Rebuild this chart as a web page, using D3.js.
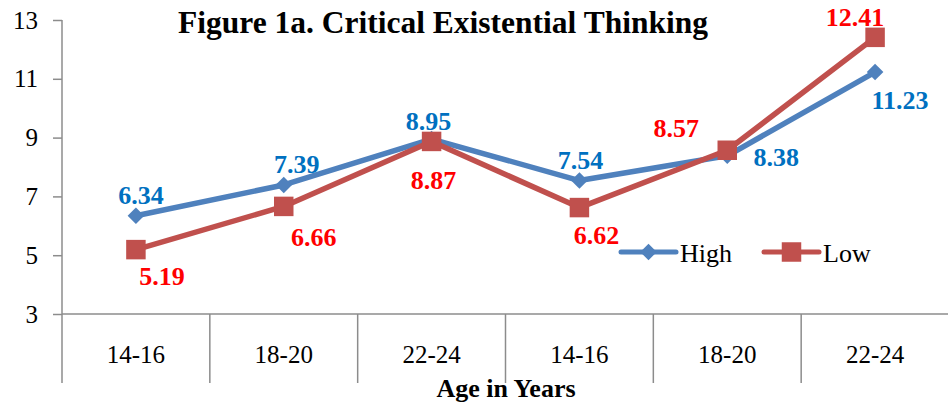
<!DOCTYPE html>
<html><head><meta charset="utf-8">
<script src="https://cdn.jsdelivr.net/npm/d3@7"></script>
<style>body{margin:0;background:#fff}svg{display:block}</style>
</head><body>
<svg id="c" width="948" height="403"></svg>
<script>
const categories = ["14-16","18-20","22-24","14-16","18-20","22-24"];
const highValues = [6.34, 7.39, 8.95, 7.54, 8.38, 11.23];
const lowValues  = [5.19, 6.66, 8.87, 6.62, 8.57, 12.41];
const yTicks = [3, 5, 7, 9, 11, 13];
const seriesNames = ["High", "Low"];
const chartTitle = "Figure 1a. Critical Existential Thinking";
const xTitle = "Age in Years";
// label offsets (px) relative to each point
const highLabelOffsets = [[5,-20],[13,-20],[-3,-18],[1,-20],[49,2],[25,28]];
const lowLabelOffsets  = [[26,27],[30,31],[2,39],[17,28],[-51,-22],[-20,-20]];

(function(){
const svg = d3.select("#c");
const mLeft = 62, mRight = 949, mTop = 20, mBottom = 314;
const font = "'Liberation Serif','Times New Roman',serif";
const idx = categories.map((d,i)=>i);
const x = d3.scaleBand().domain(idx).range([mLeft, mRight]);
const y = d3.scaleLinear().domain([3,13]).range([mBottom, mTop]);
const axisColor = "#8c8c8c";

// y axis
const ya = svg.append("g").attr("transform",`translate(${mLeft},0)`)
  .call(d3.axisLeft(y).tickValues(yTicks).tickSize(9).tickPadding(15));
ya.select(".domain").attr("stroke",axisColor).attr("stroke-width",1.5).attr("d",`M0,${mTop}V383`);
ya.selectAll(".tick line").attr("stroke",axisColor).attr("stroke-width",1.5);
ya.selectAll(".tick text").attr("font-family",font).attr("font-size",25).attr("fill","#000");

// x axis line
svg.append("line").attr("x1",mLeft).attr("x2",mRight).attr("y1",y(3)).attr("y2",y(3))
  .attr("stroke",axisColor).attr("stroke-width",1.5);
// category separators
svg.selectAll(".sep").data(idx.slice(1)).enter().append("line")
  .attr("x1",d=>x(d)).attr("x2",d=>x(d)).attr("y1",y(3)).attr("y2",383)
  .attr("stroke",axisColor).attr("stroke-width",1.5);
svg.selectAll(".cat").data(idx).enter().append("text")
  .attr("x",d=>x(d)+x.bandwidth()/2).attr("y",357)
  .attr("text-anchor","middle").attr("dominant-baseline","middle")
  .attr("font-family",font).attr("font-size",25).text(d=>categories[d]);

// titles
svg.append("text").attr("x",443).attr("y",33).attr("text-anchor","middle")
  .attr("font-family",font).attr("font-size",31.5).attr("font-weight","bold").text(chartTitle);
svg.append("text").attr("x",506).attr("y",397).attr("text-anchor","middle")
  .attr("font-family",font).attr("font-size",26).attr("font-weight","bold").text(xTitle);

const cx = i => x(i)+x.bandwidth()/2;
const line = d3.line().x((d,i)=>cx(i)).y(d=>y(d));
const blue = "#4F81BD", red = "#C0504D";
const diamond = d3.symbol().type(d3.symbolDiamond2).size(175);
const square = d3.symbol().type(d3.symbolSquare).size(380);

function drawSeries(vals, color, sym){
  svg.append("path").datum(vals).attr("d",line).attr("fill","none")
    .attr("stroke",color).attr("stroke-width",5.5).attr("stroke-linejoin","round");
  svg.selectAll(null).data(vals).enter().append("path")
    .attr("d",sym).attr("fill",color)
    .attr("transform",(d,i)=>`translate(${cx(i)},${y(d)})`);
}
drawSeries(highValues, blue, diamond);
drawSeries(lowValues, red, square);

function drawLabels(vals, offs, color){
  svg.selectAll(null).data(vals).enter().append("text")
    .attr("x",(d,i)=>cx(i)+offs[i][0]).attr("y",(d,i)=>y(d)+offs[i][1])
    .attr("text-anchor","middle").attr("dominant-baseline","central")
    .attr("font-family",font).attr("font-size",26).attr("font-weight","bold")
    .attr("fill",color).text(d=>d.toFixed(2));
}
drawLabels(highValues, highLabelOffsets, "#0070C0");
drawLabels(lowValues, lowLabelOffsets, "#FF0000");

// legend
const leg = [{name:seriesNames[0],color:blue,sym:diamond,x:621},{name:seriesNames[1],color:red,sym:square,x:764}];
const lg = svg.selectAll(".leg").data(leg).enter().append("g")
  .attr("transform",d=>`translate(${d.x},252)`);
lg.append("line").attr("x1",0).attr("x2",55).attr("stroke",d=>d.color).attr("stroke-width",5).attr("stroke-linecap","round");
lg.append("path").attr("d",d=>d.sym()).attr("fill",d=>d.color).attr("transform","translate(27.5,0)");
lg.append("text").attr("x",59).attr("y",1).attr("dominant-baseline","central")
  .attr("font-family",font).attr("font-size",26).text(d=>d.name);
})();
</script>
</body></html>
